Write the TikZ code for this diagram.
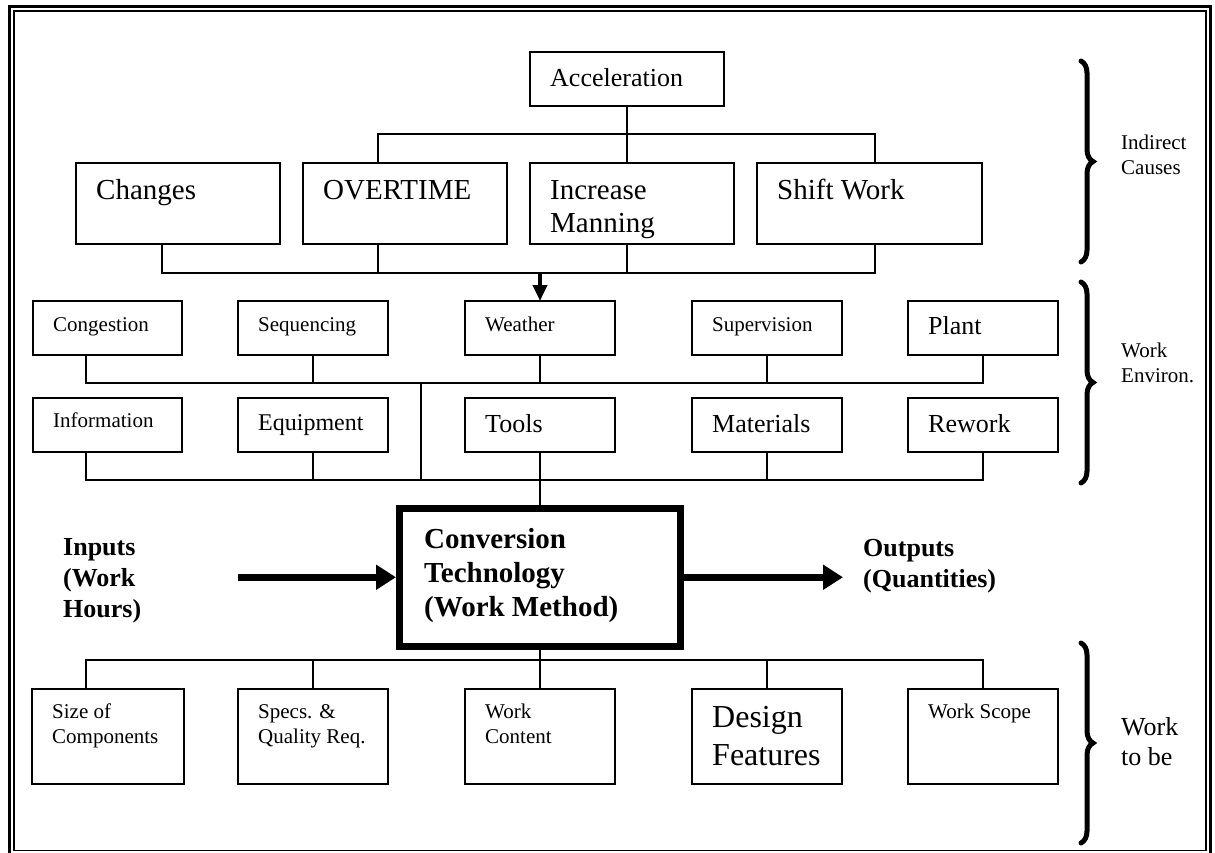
\documentclass[tikz,border=0pt]{standalone}
\usepackage{fontspec}
\setmainfont{Liberation Serif}
\usetikzlibrary{arrows.meta, decorations.pathreplacing}

\tikzset{
  box/.style 2 args={draw, line width=1.8pt, inner sep=0pt, outer sep=0pt,
    minimum width=#1pt, minimum height=#2pt},
  txt/.style={anchor=base west, inner sep=0pt, align=left},
  fa/.style={font=\fontsize{21pt}{25pt}\selectfont},
  fb/.style={font=\fontsize{24pt}{28pt}\selectfont},
  fc/.style={font=\fontsize{26pt}{30pt}\selectfont},
  fd/.style={font=\fontsize{29pt}{33pt}\selectfont},
  fe/.style={font=\fontsize{32pt}{38pt}\selectfont},
  fcb/.style={font=\fontsize{26pt}{31pt}\selectfont\bfseries},
  fdb/.style={font=\fontsize{29pt}{34pt}\selectfont\bfseries},
  link/.style={line width=1.8pt},
  fatarrow/.style={line width=7pt, -{Triangle[length=20pt,width=24pt]}},
  downarrow/.style={line width=4pt, -{Triangle[length=16pt,width=14pt]}},
  bracket/.style={decorate, decoration={brace, amplitude=12pt},
    line width=5pt, line cap=round},
}

\begin{document}
\begin{tikzpicture}[x=1pt, y=-1pt]
    \useasboundingbox (0,0) rectangle (1215,852);

    % double frame
    \draw[line width=2.8pt] (9.7,6.2) rectangle (1210.6,856);
    \draw[line width=1.7pt] (14.2,11) rectangle (1206,850.5);

    % indirect causes
    \node[box={194}{54}, label={[txt,fc,xshift=20pt,yshift=-34pt]north west:Acceleration}] (accel) at (627,79) {};
    \node[box={204}{81}, label={[txt,fd,xshift=20pt,yshift=-36pt]north west:Changes}] (chg) at (178,203.5) {};
    \node[box={204}{81}, label={[txt,fd,xshift=20pt,yshift=-36pt]north west:OVERTIME}] (ot) at (405,203.5) {};
    \node[box={204}{81}, label={[txt,fd,xshift=20pt,yshift=-69pt]north west:{Increase\\Manning}}] (incr) at (632,203.5) {};
    \node[box={225}{81}, label={[txt,fd,xshift=20pt,yshift=-36pt]north west:Shift Work}] (sw) at (869.5,203.5) {};

    \coordinate (upL) at (378,134);
    \coordinate (upR) at (875,134);
    \coordinate (lowL) at (162,273);
    \coordinate (lowR) at (875,273);

    \draw[link] (accel.south) -- (accel.south |- incr.north);
    \draw[link] (upL |- ot.north) -- (upL) -- (upR) -- (upR |- sw.north);
    \draw[link] (lowL |- chg.south) -- (lowL) -- (lowR) -- (lowR |- sw.south);
    \draw[link] (upL |- ot.south) -- (upL |- lowL);
    \draw[link] (accel.south |- incr.south) -- (accel.south |- lowL);

    % work environment
    \node[box={149}{54}, label={[txt,fa,xshift=20pt,yshift=-30pt]north west:Congestion}] (cong) at (107.5,328) {};
    \node[box={150}{54}, label={[txt,fa,xshift=20pt,yshift=-30pt]north west:Sequencing}] (seq) at (313,328) {};
    \node[box={150}{54}, label={[txt,fa,xshift=20pt,yshift=-30pt]north west:Weather}] (weather) at (540,328) {};
    \node[box={150}{54}, label={[txt,fa,xshift=20pt,yshift=-30pt]north west:Supervision}] (sup) at (767,328) {};
    \node[box={150}{54}, label={[txt,fc,xshift=20pt,yshift=-33pt]north west:Plant}] (plant) at (983,328) {};

    \node[box={149}{54}, label={[txt,fa,xshift=20pt,yshift=-29pt]north west:Information}] (info) at (107.5,425) {};
    \node[box={150}{54}, label={[txt,fb,xshift=20pt,yshift=-32pt]north west:Equipment}] (equip) at (313,425) {};
    \node[box={150}{54}, label={[txt,fc,xshift=20pt,yshift=-34pt]north west:Tools}] (tools) at (540,425) {};
    \node[box={150}{54}, label={[txt,fc,xshift=20pt,yshift=-34pt]north west:Materials}] (mat) at (767,425) {};
    \node[box={150}{54}, label={[txt,fc,xshift=20pt,yshift=-34pt]north west:Rework}] (rework) at (983,425) {};

    \draw[downarrow] (lowL -| weather.north) -- (weather.north);

    \coordinate (busA) at (86,383);
    \coordinate (busB) at (86,480);
    \coordinate (joint) at (421,383);

    \draw[link] (busA |- cong.south) -- (busA) -- (busA -| plant.south) -- (plant.south);
    \foreach \n in {seq,weather,sup}
        \draw[link] (\n.south) -- (\n.south |- busA);
    \draw[link] (busB |- info.south) -- (busB) -- (busB -| rework.south) -- (rework.south);
    \foreach \n in {equip,mat}
        \draw[link] (\n.south) -- (\n.south |- busB);
    \draw[link] (joint) -- (joint |- busB);

    % conversion
    \node[draw, line width=7pt, inner sep=0pt, minimum width=281pt, minimum height=138.5pt,
        label={[txt,fdb,xshift=28pt,yshift=-111.5pt]north west:{Conversion\\Technology\\(Work Method)}}] (conv) at (540,577.25) {};
    \draw[link] (tools.south) -- (conv.north);

    \node[txt,fcb] (inputs) at (63,617) {Inputs\\(Work\\Hours)};
    \node[txt,fcb] (outputs) at (863,587) {Outputs\\(Quantities)};

    \coordinate (intail) at (238,577.25);
    \coordinate (outtip) at (843,577.25);
    \draw[fatarrow] (intail) -- (intail -| conv.west);
    \draw[fatarrow] (conv.east) -- (outtip);

    % work to be done
    \node[box={152}{95}, label={[txt,fa,xshift=20pt,yshift=-54pt]north west:{Size of\\Components}}] (size) at (108,736.5) {};
    \node[box={150}{95}, label={[txt,fa,xshift=20pt,yshift=-54pt]north west:{Specs. \&\\Quality Req.}}] (specs) at (313,736.5) {};
    \node[box={150}{95}, label={[txt,fa,xshift=20pt,yshift=-54pt]north west:{Work\\Content}}] (content) at (540,736.5) {};
    \node[box={150}{95}, label={[txt,fe,xshift=20pt,yshift=-76pt]north west:{Design\\Features}}] (design) at (767,736.5) {};
    \node[box={150}{95}, label={[txt,fa,xshift=20pt,yshift=-29pt]north west:Work Scope}] (scope) at (983,736.5) {};

    \coordinate (busC) at (86,660);
    \draw[link] (conv.south) -- (content.north);
    \draw[link] (busC |- size.north) -- (busC) -- (busC -| scope.north) -- (scope.north);
    \foreach \n in {specs,design}
        \draw[link] (\n.north) -- (\n.north |- busC);

    % braces
    \draw[bracket] (1081,61) -- (1081,262);
    \draw[bracket] (1081,282) -- (1081,483);
    \draw[bracket] (1081,643) -- (1081,843);

    \node[txt,fa] (indirect) at (1121,174) {Indirect\\Causes};
    \node[txt,fa] (environ) at (1121,382) {Work\\Environ.};
    \node[txt,fc] (tobe) at (1121,765) {Work\\to be};
\end{tikzpicture}
\end{document}
